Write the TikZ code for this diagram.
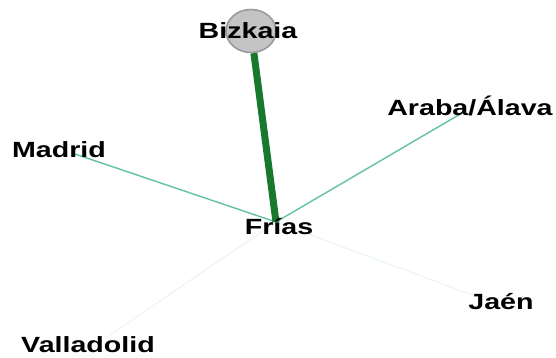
\documentclass[tikz,border=0pt]{standalone}
\usepackage{fontspec}
\usetikzlibrary{shapes.geometric}
\newfontfamily\lblfont{Liberation Sans}[FakeStretch=1.3]
\definecolor{edgedark}{HTML}{17782E}
\definecolor{edgemid}{HTML}{62C49D}
\definecolor{edgefaint}{HTML}{E8F5F0}
\definecolor{nodegray}{HTML}{C4C4C4}
\definecolor{nodeline}{HTML}{9A9A9A}

\begin{document}
\begin{tikzpicture}[x=1pt,y=-1pt,
   lbl/.style={font=\lblfont\bfseries\fontsize{22}{24}\selectfont,inner sep=0pt},
   hub/.style={ellipse,draw=nodeline,fill=nodegray,line width=1.6pt,minimum width=50pt,minimum height=43pt,inner sep=0pt},
   strong/.style={draw=edgedark,line width=7pt},
   mid/.style={draw=edgemid,line width=1.4pt},
   weak/.style={draw=edgefaint,line width=1pt}]
  \useasboundingbox[fill=white] (0,0) rectangle (556,358);
  % vertices
  \node[hub] (biz) at (251,31) {};
  \coordinate (fri) at (276,222);
  \coordinate (ara) at (462,113);
  \coordinate (mad) at (72,153);
  \coordinate (jae) at (475,296);
  \coordinate (val) at (110,335);
  % edges
  \draw[weak] (fri)--(jae); \draw[weak] (fri)--(val);
  \draw[mid] (fri)--(mad); \draw[mid] (fri)--(ara);
  \draw[strong] (biz)--(fri);
  % labels
  \node[lbl] at (248,31) {Bizkaia};
  \node[lbl] at (279,227) {Frías};
  \node[lbl] at (470,106) {Araba/Álava};
  \node[lbl] at (59,150) {Madrid};
  \node[lbl] at (501,302) {Jaén};
  \node[lbl] at (88,345) {Valladolid};
\end{tikzpicture}
\end{document}
